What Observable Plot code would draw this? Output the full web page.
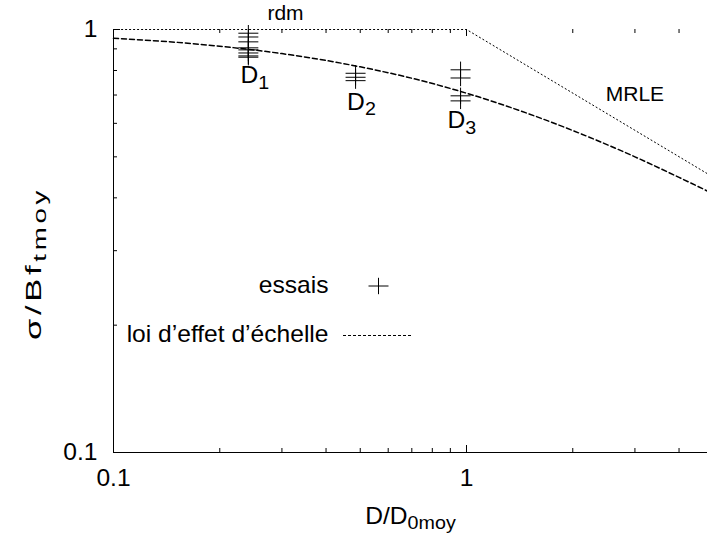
<!DOCTYPE html>
<html><head><meta charset="utf-8">
<script src="https://cdn.jsdelivr.net/npm/d3@7"></script>
<script src="https://cdn.jsdelivr.net/npm/@observablehq/plot@0.6"></script>
<style>
html,body{margin:0;padding:0;background:#fff;}
</style></head><body><div id="chart"></div>
<script>
// ---------- data ----------
const xDomain = [0.1, 4.816];
const yDomain = [0.1, 1];

const xMajorTicks = [0.1, 1];
const xMinorTicks = [0.2, 0.3, 0.4, 0.5, 0.6, 0.7, 0.8, 0.9, 2, 3, 4];
const yMajorTicks = [0.1, 1];
const yMinorTicks = [0.2, 0.3, 0.4, 0.5, 0.6, 0.7, 0.8, 0.9];

const specimenNames = ["D_{1}", "D_{2}", "D_{3}"];
const specimenX = [0.241, 0.485, 0.962];
const d1Values = [0.98, 0.96, 0.935, 0.905, 0.895, 0.88, 0.866, 0.86];
const d2Values = [0.788, 0.771, 0.757];
const d3Values = [0.803, 0.768, 0.697, 0.678];
const specimenLabelX = [0.229, 0.459, 0.884];
const specimenLabelY = [0.777, 0.672, 0.608];

const lawX = [0.1, 0.15, 0.2, 0.3, 0.4, 0.5, 0.7, 1, 1.5, 2, 3, 4, 4.816];
const lawY = [0.953, 0.933, 0.913, 0.877, 0.845, 0.816, 0.767, 0.707, 0.632, 0.577, 0.5, 0.447, 0.415];

const critX = [0.1, 1, 4.816];
const critY = [1, 1, 0.456];

const noteTexts = ["rdm", "MRLE"];
const noteX = [0.307, 3.0];
const noteY = [1.09, 0.702];

const legendNames = ["essais", "loi d\u2019effet d\u2019\u00e9chelle"];
const xLabel = "D/D_{0moy}";
const yLabel = "\u03c3/Bf_{tmoy}";

// ---------- layout ----------
const W = 707, H = 538, ML = 113, MR = 0, MT = 29, MB = 86;
const PW = W - ML - MR, PH = H - MT - MB;
const FONT = "'Liberation Sans', Arial, Helvetica, sans-serif";
const FS = 23, NOTE_FS = 21;
const STRETCH = 1.07, YSTRETCH = 1.5;

const plusSymbol = {
  draw(ctx, size) {
    const r = Math.sqrt(size / Math.PI), h = r * 0.82;
    ctx.moveTo(-r, 0); ctx.lineTo(r, 0);
    ctx.moveTo(0, -h); ctx.lineTo(0, h);
  }
};

const points = [];
[d1Values, d2Values, d3Values].forEach((vals, i) => vals.forEach(v => points.push({x: specimenX[i], y: v})));
const law = lawX.map((x, i) => ({x, y: lawY[i]}));
const crit = critX.map((x, i) => ({x, y: critY[i]}));
const specLabels = specimenNames.map((t, i) => ({t, x: specimenLabelX[i], y: specimenLabelY[i]}));
const notes = noteTexts.map((t, i) => ({t, x: noteX[i], y: noteY[i]}));

const chart = Plot.plot({
  width: W, height: H,
  marginLeft: ML, marginRight: MR, marginTop: MT, marginBottom: MB,
  style: {fontFamily: FONT, fontSize: FS + "px", background: "#fff", color: "#000"},
  x: {type: "log", domain: xDomain},
  y: {type: "log", domain: yDomain},
  marks: [
    Plot.ruleX([xDomain[0]], {stroke: "#000", strokeWidth: 1}),
    Plot.ruleY([yDomain[0]], {stroke: "#000", strokeWidth: 1}),
    Plot.ruleX(xMajorTicks, {insetTop: PH - 7, stroke: "#000"}),
    Plot.ruleX(xMinorTicks, {insetTop: PH - 4, stroke: "#000"}),
    Plot.ruleX(xMajorTicks, {insetBottom: PH - 7, stroke: "#000"}),
    Plot.ruleX(xMinorTicks, {insetBottom: PH - 4, stroke: "#000"}),
    Plot.ruleY(yMajorTicks, {insetRight: PW - 7, stroke: "#000"}),
    Plot.ruleY(yMinorTicks, {insetRight: PW - 4, stroke: "#000"}),
    Plot.axisX({ticks: xMajorTicks, tickSize: 0, tickPadding: 17.5, tickFormat: d => String(d), label: null, fontSize: FS, fill: "#000"}),
    Plot.axisY({ticks: yMajorTicks, tickSize: 0, tickPadding: 16, tickFormat: d => String(d), label: null, fontSize: FS, fill: "#000"}),
    Plot.text([xLabel], {frameAnchor: "bottom", dy: 55, lineAnchor: "top", textAnchor: "middle", text: d => d, fontSize: FS, fill: "#000"}),
    Plot.text([yLabel], {frameAnchor: "left", rotate: -90, dx: -80, dy: 22.5, lineAnchor: "middle", textAnchor: "middle", text: d => d, fontSize: FS, fill: "#000"}),
    Plot.line(crit, {x: "x", y: "y", stroke: "#000", strokeWidth: 1, strokeDasharray: "1.2,2.8"}),
    Plot.line(law, {x: "x", y: "y", curve: "monotone-x", stroke: "#000", strokeWidth: 1.5, strokeDasharray: "5,3"}),
    Plot.dot(points, {x: "x", y: "y", symbol: plusSymbol, r: 10, stroke: "#000", fill: "none", strokeWidth: 1}),
    Plot.text(specLabels, {x: "x", y: "y", text: "t", textAnchor: "start", lineAnchor: "middle", fontSize: FS, fill: "#000"}),
    Plot.text(notes, {x: "x", y: "y", text: "t", textAnchor: "middle", lineAnchor: "middle", fontSize: NOTE_FS, fill: "#000"}),
    Plot.text([legendNames[0]], {frameAnchor: "top-left", dx: 215, dy: 256.5, textAnchor: "end", lineAnchor: "middle", text: d => d, fontSize: FS, fill: "#000"}),
    Plot.text([legendNames[1]], {frameAnchor: "top-left", dx: 215, dy: 305, textAnchor: "end", lineAnchor: "middle", text: d => d, fontSize: FS, fill: "#000"}),
    Plot.dot([legendNames[0]], {frameAnchor: "top-left", dx: 265, dy: 256.5, symbol: plusSymbol, r: 10, stroke: "#000", fill: "none", strokeWidth: 1})
  ]
});

// legend sample of the dashed law
d3.select(chart).append("line")
  .attr("x1", ML + 230).attr("x2", ML + 299)
  .attr("y1", MT + 306.5).attr("y2", MT + 306.5)
  .attr("stroke", "#000").attr("stroke-width", 1)
  .attr("stroke-dasharray", "3,2");

// subscripts and glyph stretch
const NS = "http://www.w3.org/2000/svg";
chart.querySelectorAll("text").forEach(t => {
  const s = t.textContent;
  const m = s.match(/^(.*)_\{(.*)\}$/);
  const isY = s.indexOf("\u03c3") >= 0;
  const isNote = noteTexts.includes(s);
  if (m) {
    t.textContent = "";
    const a = document.createElementNS(NS, "tspan");
    a.textContent = m[1];
    t.appendChild(a);
    const b = document.createElementNS(NS, "tspan");
    b.textContent = m[2];
    b.setAttribute("font-size", "0.8em");
    b.setAttribute("dy", "0.3em");
    t.appendChild(b);
  }
  if (isY) t.setAttribute("letter-spacing", "2.5");
  const k = isY ? YSTRETCH : isNote ? 1 : STRETCH;
  const tr = t.getAttribute("transform");
  if (tr) t.setAttribute("transform", tr + ` scale(${k},1)`);
  else {
    const x = +(t.getAttribute("x") || 0);
    t.setAttribute("x", x / k);
    t.setAttribute("transform", `scale(${k},1)`);
  }
});

document.getElementById("chart").appendChild(chart);
</script>
</body></html>
